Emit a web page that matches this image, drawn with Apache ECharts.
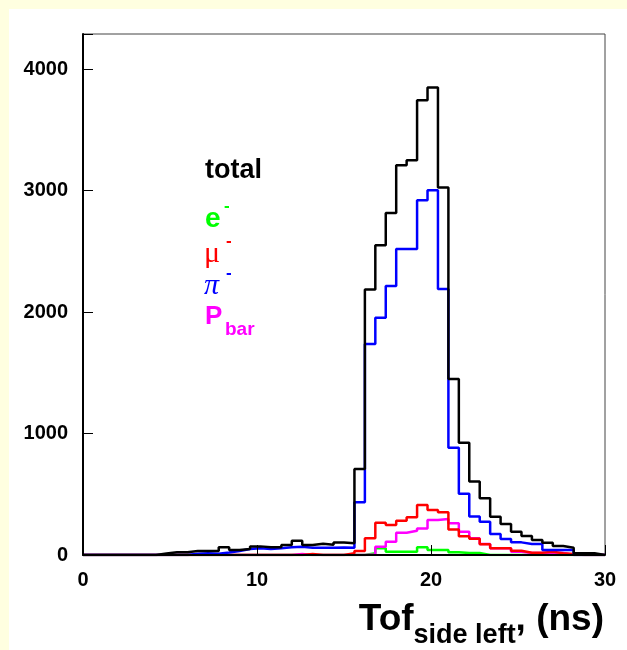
<!DOCTYPE html>
<html><head><meta charset="utf-8">
<script src="https://cdn.jsdelivr.net/npm/echarts@6/dist/echarts.min.js"></script>
<style>
html,body{margin:0;padding:0;background:#ffffe0;}
#wrap{position:relative;width:627px;height:650px;background:#ffffe0;overflow:hidden;}
#panel{position:absolute;left:9px;top:9px;width:618px;height:641px;background:#fff;}
#chart{position:absolute;left:0;top:0;width:627px;height:650px;}
</style></head><body>
<div id="wrap"><div id="panel"></div><div id="chart"></div></div>
<script>
// Histogram: 50 bins of 0.6 ns from 0 to 30 ns
const binWidth = 0.6;
const xMin = 0, xMax = 30;
const xTicks = [0, 10, 20, 30];
const yTicks = [0, 1000, 2000, 3000, 4000];

const total = [0,0,0,0,0,0,0,12,22,22,
  33,33,33,63,41,49,71,63,63,82,
  118,82,92,84,102,96,708,2187,2551,2817,
  3210,3251,3745,3849,3026,1449,924,605,467,315,
  255,192,156,123,101,74,60,14,14,0];
const pion = [0,0,0,0,0,0,0,0,0,0,
  10,14,10,20,33,49,55,50,55,63,
  68,60,60,60,62,60,434,1737,1953,2214,
  2519,2519,2922,3004,2190,883,505,318,274,173,
  132,104,90,90,41,41,41,0,0,0];
const muon = [0,0,0,0,0,0,0,0,0,0,
  0,0,0,0,0,0,0,0,0,0,
  0,8,0,0,0,14,33,137,266,247,
  282,310,411,370,351,210,155,133,88,55,
  55,35,19,19,27,15,8,0,0,0];
const pbar = [0,0,0,0,0,0,0,0,0,0,
  0,0,0,0,0,0,0,0,0,0,
  8,0,0,0,0,0,0,5,68,110,
  184,200,219,288,296,261,192,137,90,55,
  55,27,16,16,16,16,0,0,0,0];
const electron = [0,0,0,0,0,0,0,0,0,0,
  0,0,0,0,0,0,0,0,0,0,
  0,0,0,0,0,0,0,14,55,27,
  27,27,63,41,41,22,16,16,0,0,
  0,0,0,0,0,0,0,0,0,0];

function steps(vals){
  const pts = vals.map((v,i)=>[+(i*binWidth).toFixed(3), v]);
  pts.push([xMax, vals[vals.length-1]]);
  return pts;
}
function hist(name, vals, color){
  return {name, type:'line', step:'end', symbol:'none', data:steps(vals),
    lineStyle:{color, width:2.5}, itemStyle:{color}, z:2, silent:true, animation:false};
}
const FONT = '"Liberation Sans", Arial, sans-serif';
const SERIF = '"Liberation Serif", "DejaVu Serif", serif';
const chart = echarts.init(document.getElementById('chart'), null, {renderer:'canvas'});
const axisCommon = {
  z: 10,
  axisLine:{show:true, onZero:false, lineStyle:{color:'#000', width:2}},
  axisTick:{show:true, inside:true, length:10, lineStyle:{color:'#000', width:1}},
  splitLine:{show:false},
  axisLabel:{color:'#000', fontSize:20, fontWeight:'bold', fontFamily:FONT}
};
chart.setOption({
  backgroundColor:'transparent',
  animation:false,
  grid:{left:83, right:22, top:34, bottom:95, show:true, borderColor:'#444', borderWidth:1, backgroundColor:'#fff'},
  xAxis: Object.assign({}, axisCommon, {type:'value', min:xMin, max:xMax, interval:10,
    axisLabel:Object.assign({}, axisCommon.axisLabel, {margin:15,
      formatter:v=> xTicks.includes(v) ? String(v) : ''})}),
  yAxis: Object.assign({}, axisCommon, {type:'value', min:0, max:4290, interval:1000,
    axisLabel:Object.assign({}, axisCommon.axisLabel, {margin:15, padding:[4,0,0,0],
      formatter:v=> yTicks.includes(v) ? String(v) : ''})}),
  series:[
    hist('e-', electron, '#00ff00'),
    hist('Pbar', pbar, '#ff00ff'),
    hist('mu-', muon, '#ff0000'),
    hist('pi-', pion, '#0000ff'),
    hist('total', total, '#000000')
  ],
  graphic:[
    {type:'text', x:205, y:171, style:{text:'total', font:'bold 27px '+FONT, fill:'#000', verticalAlign:'middle'}},
    {type:'text', x:205, y:219, style:{text:'e', font:'bold 28px '+FONT, fill:'#00ff00', verticalAlign:'middle'}},
    {type:'text', x:224, y:206, style:{text:'-', font:'bold 17px '+FONT, fill:'#00ff00', verticalAlign:'middle'}},
    {type:'text', x:204, y:254, style:{text:'μ', font:'30px '+SERIF, fill:'#ff0000', verticalAlign:'middle'}},
    {type:'text', x:226, y:241, style:{text:'-', font:'bold 17px '+FONT, fill:'#ff0000', verticalAlign:'middle'}},
    {type:'text', x:204, y:286, style:{text:'π', font:'italic 30px '+SERIF, fill:'#0000ff', verticalAlign:'middle'}},
    {type:'text', x:226, y:273, style:{text:'-', font:'bold 17px '+FONT, fill:'#0000ff', verticalAlign:'middle'}},
    {type:'text', x:205, y:317, style:{text:'P', font:'bold 26px '+FONT, fill:'#ff00ff', verticalAlign:'middle'}},
    {type:'text', x:225, y:330, style:{text:'bar', font:'bold 19px '+FONT, fill:'#ff00ff', verticalAlign:'middle'}},
    {type:'text', x:604, y:601, style:{
      text:'{a|Tof}{b|side left}{a|, (ns)}', align:'right', verticalAlign:'top', fill:'#000',
      rich:{
        a:{fontSize:37, fontWeight:'bold', fontFamily:FONT, lineHeight:42, verticalAlign:'top', fill:'#000'},
        b:{fontSize:27, fontWeight:'bold', fontFamily:FONT, lineHeight:27, padding:[21,0,0,0], verticalAlign:'top', fill:'#000'}
      }}}
  ]
});
</script>
</body></html>
